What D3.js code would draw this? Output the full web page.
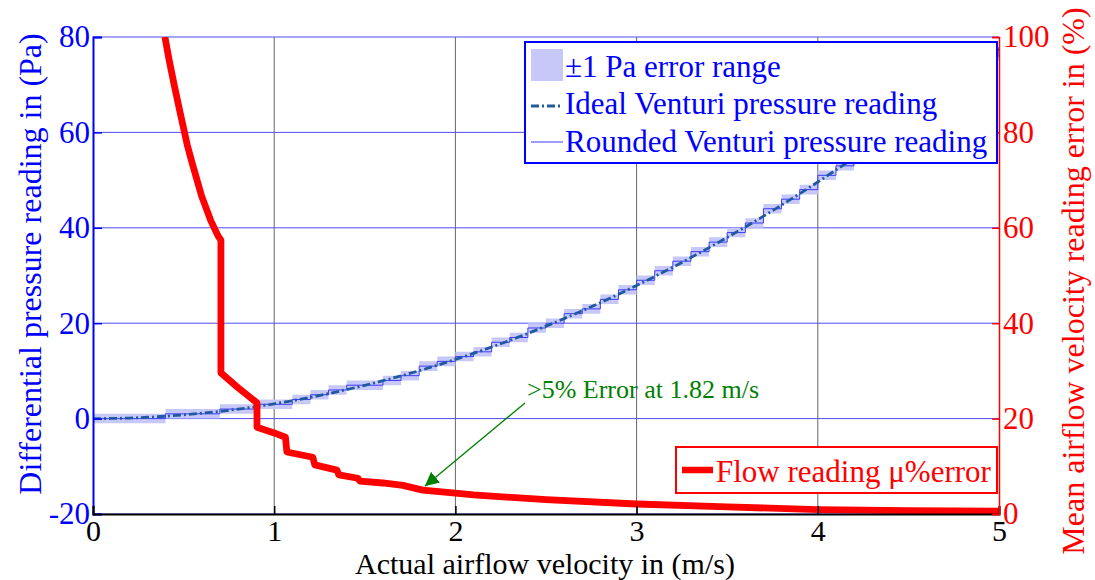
<!DOCTYPE html>
<html lang="en">
<head>
    <meta charset="UTF-8">
    <title>Venturi pressure reading and airflow error</title>
    <script src="https://d3js.org/d3.v7.min.js"></script>
    <style>
        body { margin: 0; background: #fff; }
        svg text { font-family: "Liberation Serif", "Times New Roman", serif; }
    </style>
</head>
<body>
    <div id="chart"></div>

    <script>
        // airflow velocity samples (m/s)
        const velocity = [0, 0.1, 0.2, 0.3, 0.4, 0.5, 0.6, 0.7, 0.8, 0.9,
            1.0, 1.1, 1.2, 1.3, 1.4, 1.5, 1.6, 1.7, 1.8, 1.9,
            2.0, 2.1, 2.2, 2.3, 2.4, 2.5, 2.6, 2.7, 2.8, 2.9,
            3.0, 3.1, 3.2, 3.3, 3.4, 3.5, 3.6, 3.7, 3.8, 3.9,
            4.0, 4.1, 4.2, 4.3, 4.4, 4.5, 4.6, 4.7, 4.8, 4.9, 5.0];
        // ideal venturi pressure (Pa)
        const idealPa = [0, 0.03, 0.12, 0.28, 0.5, 0.78, 1.12, 1.52, 1.98, 2.51,
            3.1, 3.75, 4.46, 5.24, 6.08, 6.98, 7.94, 8.96, 10.04, 11.19,
            12.4, 13.67, 15.0, 16.4, 17.86, 19.38, 20.96, 22.6, 24.3, 26.07,
            27.9, 29.79, 31.74, 33.76, 35.84, 37.98, 40.18, 42.44, 44.76, 47.15,
            49.6, 52.11, 54.68, 57.32, 60.02, 62.78, 65.6, 68.48, 71.42, 74.43, 77.5];
        // rounded venturi pressure (Pa), held until next sample
        const roundedPa = [0, 0, 0, 0, 1, 1, 1, 2, 2, 3,
            3, 4, 5, 6, 7, 7, 8, 9, 11, 12,
            13, 14, 16, 17, 19, 20, 22, 23, 25, 27,
            29, 31, 33, 35, 37, 39, 41, 44, 46, 48,
            51, 53, 56, 59, 61, 64, 67, 70, 73, 76, 78];
        const errPa = 1;

        // flow reading mean error (%)
        const errVelocity = [0.397, 0.42, 0.45, 0.48, 0.52, 0.55, 0.6, 0.65, 0.69, 0.706,
            0.706, 0.80, 0.905, 0.905, 1.0, 1.062, 1.07, 1.213, 1.224, 1.346,
            1.357, 1.462, 1.473, 1.6, 1.71, 1.82, 2.0, 2.1, 2.5, 3.0,
            3.5, 4.0, 4.5, 5.0];
        const errPercent = [100, 95.2, 89.6, 84.3, 77.4, 73.2, 66.6, 61.5, 58.3, 57.4,
            29.6, 26.5, 23.3, 18.2, 17.0, 16.1, 13.0, 11.9, 10.3, 9.2,
            8.2, 7.5, 6.9, 6.5, 6.0, 5.0, 4.4, 4.0, 3.0, 2.1,
            1.5, 0.9, 0.7, 0.6];

        const xTicks = [0, 1, 2, 3, 4, 5];
        const leftTicks = [-20, 0, 20, 40, 60, 80];
        const rightTicks = [0, 20, 40, 60, 80, 100];

        const serif = '"Liberation Serif", "Times New Roman", serif';
        const margin = {top: 37, right: 96, bottom: 66, left: 93},
            width = 1095 - margin.left - margin.right,
            height = 580 - margin.top - margin.bottom;

        const svg = d3.select('#chart')
            .append('svg')
                .attr('width', 1095)
                .attr('height', 580);
        const g = svg.append('g')
            .attr('transform', `translate(${margin.left}, ${margin.top})`);

        const x = d3.scaleLinear().domain([0, 5]).range([0, width]);
        const yL = d3.scaleLinear().domain([-20, 80]).range([height, 0]);
        const yR = d3.scaleLinear().domain([0, 100]).range([height, 0]);

        g.append('clipPath').attr('id', 'plotClip')
            .append('rect').attr('width', width).attr('height', height);

        // grid
        g.append('g')
            .selectAll('line')
            .data(leftTicks)
            .join('line')
                .attr('x1', 0).attr('x2', width)
                .attr('y1', d => yL(d)).attr('y2', d => yL(d))
                .attr('stroke', '#4d4dff')
                .attr('stroke-width', 1);
        g.append('g')
            .selectAll('line')
            .data(xTicks.slice(1, -1))
            .join('line')
                .attr('x1', d => x(d)).attr('x2', d => x(d))
                .attr('y1', 0).attr('y2', height)
                .attr('stroke', '#666')
                .attr('stroke-width', 1);

        const pts = velocity.map((v, i) => ({v, ideal: idealPa[i], r: roundedPa[i]}));
        const plot = g.append('g').attr('clip-path', 'url(#plotClip)');

        // ±1 Pa error band
        plot.append('path')
            .datum(pts)
            .attr('fill', '#c8c8f8')
            .attr('d', d3.area()
                .curve(d3.curveStepAfter)
                .x(d => x(d.v))
                .y0(d => yL(d.r - errPa))
                .y1(d => yL(d.r + errPa))
            );

        // rounded reading
        plot.append('path')
            .datum(pts)
            .attr('fill', 'none')
            .attr('stroke', '#3b3bff')
            .attr('stroke-width', 1)
            .attr('d', d3.line()
                .curve(d3.curveStepAfter)
                .x(d => x(d.v))
                .y(d => yL(d.r))
            );

        // ideal reading
        plot.append('path')
            .datum(pts)
            .attr('fill', 'none')
            .attr('stroke', '#1f5a9e')
            .attr('stroke-width', 2.8)
            .attr('stroke-dasharray', '8,3,2,3')
            .attr('d', d3.line()
                .curve(d3.curveMonotoneX)
                .x(d => x(d.v))
                .y(d => yL(d.ideal))
            );

        // flow error (right axis)
        const errPts = errVelocity.map((v, i) => ({v, p: errPercent[i]}));
        plot.append('path')
            .datum(errPts)
            .attr('fill', 'none')
            .attr('stroke', '#ff0000')
            .attr('stroke-width', 6.8)
            .attr('stroke-linejoin', 'round')
            .attr('d', d3.line()
                .x(d => x(d.v))
                .y(d => yR(d.p))
            );

        // annotation
        const annV = 1.82, annP = 5.0;
        g.append('defs').append('marker')
            .attr('id', 'arrowHead')
            .attr('viewBox', '0 0 10 10')
            .attr('refX', 10).attr('refY', 5)
            .attr('markerWidth', 14).attr('markerHeight', 14)
            .attr('markerUnits', 'userSpaceOnUse')
            .attr('orient', 'auto')
            .append('path')
                .attr('d', 'M0,0 L10,5 L0,10 Z')
                .attr('fill', '#008000');
        g.append('line')
            .attr('x1', 432).attr('y1', 366)
            .attr('x2', x(annV) + 2).attr('y2', yR(annP) - 4)
            .attr('stroke', '#008000')
            .attr('stroke-width', 1.3)
            .attr('marker-end', 'url(#arrowHead)');
        g.append('text')
            .attr('x', 434).attr('y', 361)
            .attr('fill', '#008000')
            .style('font-size', '26px')
            .text('>5% Error at 1.82 m/s');

        // axes
        const axL = g.append('g')
            .attr('font-family', serif)
            .call(d3.axisLeft(yL).tickValues(leftTicks).tickFormat(d => String(d)).tickSize(-9).tickPadding(4));
        axL.select('.domain').attr('stroke', '#0000ff').attr('stroke-width', 2);
        axL.selectAll('.tick line').attr('stroke', '#0000ff').attr('stroke-width', 1.5);
        axL.selectAll('.tick text').attr('fill', '#0000ff').attr('x', -3)
            .style('font-size', '31px').style('font-family', serif);

        const axB = g.append('g')
            .attr('font-family', serif)
            .attr('transform', `translate(0, ${height})`)
            .call(d3.axisBottom(x).tickValues(xTicks).tickFormat(d => String(d)).tickSize(-8).tickPadding(10));
        axB.select('.domain').attr('stroke', '#000').attr('stroke-width', 2);
        axB.selectAll('.tick line').attr('stroke', '#000').attr('stroke-width', 1.5);
        axB.selectAll('.tick text').attr('fill', '#000').attr('y', 6)
            .style('font-size', '30px').style('font-family', serif);

        const axR = g.append('g')
            .attr('font-family', serif)
            .attr('transform', `translate(${width}, 0)`)
            .call(d3.axisRight(yR).tickValues(rightTicks).tickFormat(d => String(d)).tickSize(-7).tickPadding(4));
        axR.select('.domain').attr('stroke', '#ff0000').attr('stroke-width', 1.5);
        axR.selectAll('.tick line').attr('stroke', '#ff0000').attr('stroke-width', 1.5);
        axR.selectAll('.tick text').attr('fill', '#ff0000').attr('x', 4)
            .style('font-size', '31px').style('font-family', serif);

        // axis titles
        svg.append('text')
            .attr('x', 545).attr('y', 574)
            .attr('text-anchor', 'middle')
            .style('font-size', '30px')
            .text('Actual airflow velocity in (m/s)');
        svg.append('text')
            .attr('transform', 'translate(41, 264) rotate(-90)')
            .attr('text-anchor', 'middle')
            .attr('fill', '#0000ff')
            .style('font-size', '32px')
            .text('Differential pressure reading in (Pa)');
        svg.append('text')
            .attr('transform', 'translate(1084, 281) rotate(-90)')
            .attr('text-anchor', 'middle')
            .attr('fill', '#ff0000')
            .style('font-size', '32px')
            .text('Mean airflow velocity reading error in (%)');

        // legend for left axis series
        const leg1 = svg.append('g');
        leg1.append('rect')
            .attr('x', 525).attr('y', 42).attr('width', 472).attr('height', 121)
            .attr('fill', '#fff').attr('stroke', '#0000ff').attr('stroke-width', 2);
        leg1.append('rect')
            .attr('x', 531).attr('y', 49).attr('width', 32).attr('height', 32)
            .attr('fill', '#c8c8f8');
        leg1.append('line')
            .attr('x1', 531).attr('x2', 561).attr('y1', 106).attr('y2', 106)
            .attr('stroke', '#1f5a9e').attr('stroke-width', 2.8)
            .attr('stroke-dasharray', '8,3,2,3');
        leg1.append('line')
            .attr('x1', 531).attr('x2', 563).attr('y1', 142).attr('y2', 142)
            .attr('stroke', '#3b3bff').attr('stroke-width', 1);
        const leg1Labels = ['±1 Pa error range', 'Ideal Venturi pressure reading', 'Rounded Venturi pressure reading'];
        leg1.selectAll('text.lbl')
            .data(leg1Labels)
            .join('text')
                .attr('class', 'lbl')
                .attr('x', 565)
                .attr('y', (d, i) => [77, 114, 152][i])
                .attr('fill', '#0000ff')
                .style('font-size', '31px')
                .text(d => d);

        // legend for right axis series
        const leg2 = svg.append('g');
        leg2.append('rect')
            .attr('x', 676).attr('y', 447).attr('width', 321).attr('height', 46)
            .attr('fill', '#fff').attr('stroke', '#ff0000').attr('stroke-width', 2);
        leg2.append('line')
            .attr('x1', 682).attr('x2', 713).attr('y1', 470).attr('y2', 470)
            .attr('stroke', '#ff0000').attr('stroke-width', 6.5);
        leg2.append('text')
            .attr('x', 716).attr('y', 482)
            .attr('fill', '#ff0000')
            .style('font-size', '31px')
            .text('Flow reading μ%error');
    </script>
</body>
</html>
